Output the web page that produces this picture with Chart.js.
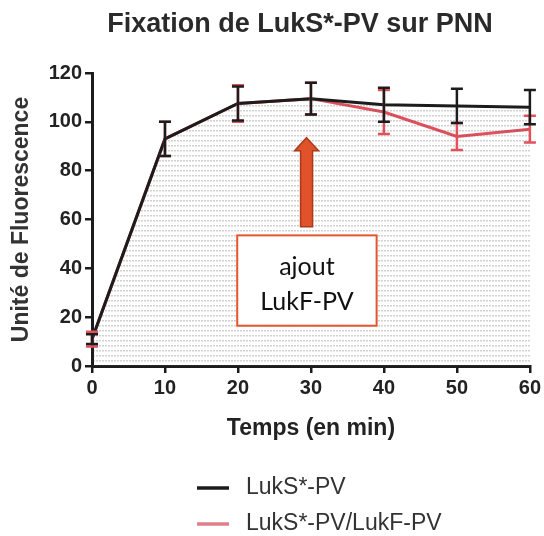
<!DOCTYPE html>
<html>
<head>
<meta charset="utf-8">
<script src="https://cdn.jsdelivr.net/npm/chart.js@4.4.1/dist/chart.umd.min.js"></script>
<style>
  html, body { margin: 0; padding: 0; background: #fff; }
  #wrap { width: 544px; height: 536px; }
</style>
</head>
<body>
<div id="wrap"><canvas id="c" width="544" height="536"></canvas></div>
<script>
// data
const times = [0, 10, 20, 30, 40, 50, 60];
const luksPV = [11, 93, 107.5, 109.5, 107, 106.5, 106];
const luksPVErr = [2, 7, 7, 6.5, 7, 7, 7];
const luksLukf = [11, 93, 107.5, 109.5, 104, 94, 97];
const luksLukfErr = [3, 7, 7.5, 6.5, 9, 5.5, 5.5];
const xTicks = [0, 10, 20, 30, 40, 50, 60];
const yTicks = [0, 20, 40, 60, 80, 100, 120];
const chartTitle = 'Fixation de LukS*-PV sur PNN';

const BLACK = '#1c1c1c';
const RED = '#e2505c';
const FONT = "'Liberation Sans', Arial, sans-serif";

function dotPattern() {
  const p = document.createElement('canvas');
  p.width = 3; p.height = 5;
  const g = p.getContext('2d');
  g.fillStyle = 'rgba(90,90,90,0.28)';
  g.fillRect(0, 0, 2, 1.5);
  return document.getElementById('c').getContext('2d').createPattern(p, 'repeat');
}

const pts = (ys) => times.map((t, i) => ({ x: t, y: ys[i] }));

const errorBars = {
  id: 'errorBars',
  afterDatasetsDraw(chart) {
    const { ctx, scales: { x, y } } = chart;
    const sets = [[luksLukf, luksLukfErr, RED], [luksPV, luksPVErr, BLACK]];
    ctx.save();
    ctx.lineWidth = 2.5;
    sets.forEach(([vals, errs, col]) => {
      ctx.strokeStyle = col;
      vals.forEach((v, i) => {
        const px = x.getPixelForValue(times[i]);
        const top = y.getPixelForValue(v + errs[i]);
        const bot = y.getPixelForValue(v - errs[i]);
        ctx.beginPath();
        ctx.moveTo(px, top); ctx.lineTo(px, bot);
        ctx.moveTo(px - 6, top); ctx.lineTo(px + 6, top);
        ctx.moveTo(px - 6, bot); ctx.lineTo(px + 6, bot);
        ctx.stroke();
      });
    });
    ctx.restore();
  }
};

const annotation = {
  id: 'annotation',
  afterDraw(chart) {
    const { ctx, scales: { x, y } } = chart;

    ctx.save();
    ctx.fillStyle = '#2a2a2a';
    ctx.font = 'bold 27px ' + FONT;
    ctx.textAlign = 'center';
    ctx.textBaseline = 'middle';
    ctx.fillText(chartTitle, 300, 25);

    const ax = x.getPixelForValue(29.4);
    const tip = y.getPixelForValue(93.5);
    const headBase = tip + 13;
    const shaftBot = y.getPixelForValue(57);
    ctx.fillStyle = '#e0522a';
    ctx.strokeStyle = '#a93a1c';
    ctx.lineWidth = 1.5;
    ctx.beginPath();
    ctx.moveTo(ax, tip);
    ctx.lineTo(ax + 12, headBase);
    ctx.lineTo(ax + 6, headBase);
    ctx.lineTo(ax + 6, shaftBot);
    ctx.lineTo(ax - 6, shaftBot);
    ctx.lineTo(ax - 6, headBase);
    ctx.lineTo(ax - 12, headBase);
    ctx.closePath();
    ctx.fill(); ctx.stroke();

    const l = x.getPixelForValue(19.9), r = x.getPixelForValue(39);
    const t = y.getPixelForValue(53.5), b = y.getPixelForValue(16.5);
    ctx.fillStyle = '#fff';
    ctx.fillRect(l, t, r - l, b - t);
    ctx.strokeStyle = '#e2562e';
    ctx.lineWidth = 2;
    ctx.strokeRect(l, t, r - l, b - t);
    ctx.fillStyle = '#111';
    ctx.font = "25px Lato, 'Open Sans', sans-serif";
    const cx = (l + r) / 2;
    ctx.fillText('ajout', cx, t + 32);
    ctx.fillText('LukF-PV', cx, t + 67);

    // legend
    const items = [['LukS*-PV', BLACK, 488], ['LukS*-PV/LukF-PV', '#e07f8c', 524]];
    ctx.font = '23px ' + FONT;
    ctx.textAlign = 'left';
    items.forEach(([txt, col, ly]) => {
      ctx.strokeStyle = col;
      ctx.lineWidth = 3.5;
      ctx.beginPath();
      ctx.moveTo(197, ly); ctx.lineTo(229, ly);
      ctx.stroke();
      ctx.fillStyle = '#333';
      ctx.fillText(txt, 246, ly);
    });
    ctx.restore();
  }
};

new Chart(document.getElementById('c'), {
  type: 'line',
  data: {
    datasets: [
      { label: 'LukS*-PV', data: pts(luksPV), borderColor: BLACK, borderWidth: 3,
        pointRadius: 0, tension: 0, fill: 'origin', backgroundColor: dotPattern() },
      { label: 'LukS*-PV/LukF-PV', data: pts(luksLukf), borderColor: RED, borderWidth: 3,
        pointRadius: 0, tension: 0, fill: false },
    ]
  },
  options: {
    responsive: false,
    animation: false,
    layout: { padding: { left: 0, right: 13, top: 73, bottom: 90 } },
    plugins: {
      legend: { display: false },
      tooltip: { enabled: false },
      title: { display: false }
    },
    scales: {
      x: {
        type: 'linear', min: 0, max: 60,
        afterBuildTicks: (s) => { s.ticks = xTicks.map(v => ({ value: v })); },
        afterFit: (s) => { s.height = 80; },
        grid: { drawOnChartArea: false, drawTicks: true, tickLength: 7, color: BLACK, lineWidth: 2.5 },
        border: { display: true, color: BLACK, width: 3 },
        ticks: { color: '#222', padding: 3, font: { family: FONT, size: 20, weight: 'bold' } },
        title: { display: true, text: 'Temps (en min)', color: '#222', padding: { top: 6 },
                 font: { family: FONT, size: 23, weight: 'bold' } }
      },
      y: {
        min: 0, max: 120,
        afterBuildTicks: (s) => { s.ticks = yTicks.map(v => ({ value: v })); },
        afterFit: (s) => { s.width = 92; },
        grid: { drawOnChartArea: false, drawTicks: true, tickLength: 7, color: BLACK, lineWidth: 2.5 },
        border: { display: true, color: BLACK, width: 3 },
        ticks: { color: '#222', padding: 3, font: { family: FONT, size: 20, weight: 'bold' } },
        title: { display: true, text: 'Unité de Fluorescence', color: '#333', padding: { top: 8, bottom: 0 },
                 font: { family: FONT, size: 23, weight: 'bold' } }
      }
    }
  },
  plugins: [errorBars, annotation]
});
</script>
</body>
</html>
